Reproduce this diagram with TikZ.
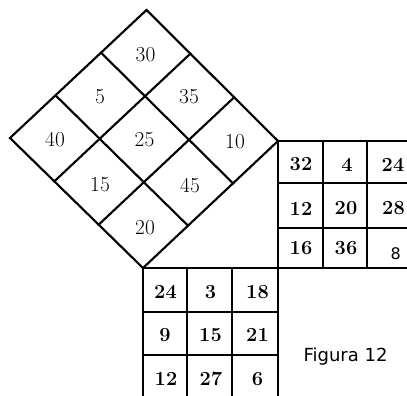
\documentclass[tikz,border=0pt]{standalone}
\usepackage{fontspec}
\newfontfamily\sansf{DejaVu Sans}
\usetikzlibrary{calc}
\tikzset{
  grid line/.style={line width=1.6pt, line join=miter, line cap=rect},
  dnum/.style={inner sep=0pt, font=\fontsize{16}{16}\selectfont},
  gnum/.style={inner sep=0pt, font=\fontsize{15}{15}\selectfont\bfseries},
  snum/.style={inner sep=0pt, font=\sansf\fontsize{12}{12}\selectfont},
  caption/.style={inner sep=0pt, font=\sansf\fontsize{13.5}{13.5}\selectfont}
}
\begin{document}
\begin{tikzpicture}[x=0.75pt,y=-0.75pt]
\useasboundingbox (0,0) rectangle (407,396);
\clip (0,0) rectangle (407,396);
% diamond corners
\coordinate (T) at (146.5,10);
\coordinate (L) at (10,138);
\coordinate (R) at (278,141);
\coordinate (B) at (143,268);
\draw[grid line] (T) -- (L) -- (B) -- (R) -- cycle;
\foreach \k in {1,2}{
  \draw[grid line] ($(T)!\k/3!(L)$) -- ($(R)!\k/3!(B)$);
  \draw[grid line] ($(T)!\k/3!(R)$) -- ($(L)!\k/3!(B)$);
}
% diamond numbers
\node[dnum] (d30) at (145.5,54.5) {30};
\node[dnum] (d5)  at (100,97) {5};
\node[dnum] (d35) at (189,97) {35};
\node[dnum] (d40) at (55,140) {40};
\node[dnum] (d25) at (144.5,140) {25};
\node[dnum] (d10) at (235,142) {10};
\node[dnum] (d15) at (100,185) {15};
\node[dnum] (d45) at (190,186) {45};
\node[dnum] (d20) at (145,228) {20};
% right square
\draw[grid line] (278,141) -- (413,141);
\draw[grid line] (278,183) -- (413,183);
\draw[grid line] (278,228) -- (413,228);
\draw[grid line] (143,268) -- (413,268);
\draw[grid line] (278,141) -- (278,400);
\draw[grid line] (323,141) -- (323,268);
\draw[grid line] (367,141) -- (367,268);
\draw[grid line] (412,141) -- (412,268);
\node[gnum] (r11) at (301,164.5) {32};
\node[gnum] (r12) at (347,164.5) {4};
\node[gnum] (r13) at (393,164.5) {24};
\node[gnum] (r21) at (301,208.5) {12};
\node[gnum] (r22) at (346,208.5) {20};
\node[gnum] (r23) at (393.5,208.5) {28};
\node[gnum] (r31) at (301,248.5) {16};
\node[gnum] (r32) at (346,248.5) {36};
\node[snum] (r33) at (395.7,254) {8};
% bottom square
\draw[grid line] (143,268) -- (143,400);
\draw[grid line] (187,268) -- (187,400);
\draw[grid line] (232,268) -- (232,400);
\draw[grid line] (143,312) -- (278,312);
\draw[grid line] (143,355) -- (278,355);
\draw[grid line] (143,399) -- (278,399);
\node[gnum] (b11) at (165.5,292) {24};
\node[gnum] (b12) at (210.5,292) {3};
\node[gnum] (b13) at (257.5,292) {18};
\node[gnum] (b21) at (165,335) {9};
\node[gnum] (b22) at (210.5,335) {15};
\node[gnum] (b23) at (257.5,335) {21};
\node[gnum] (b31) at (166,379) {12};
\node[gnum] (b32) at (211,379) {27};
\node[gnum] (b33) at (257.5,379) {6};
% caption
\node[caption] (cap) at (345.5,356.5) {Figura 12};
\end{tikzpicture}
\end{document}
